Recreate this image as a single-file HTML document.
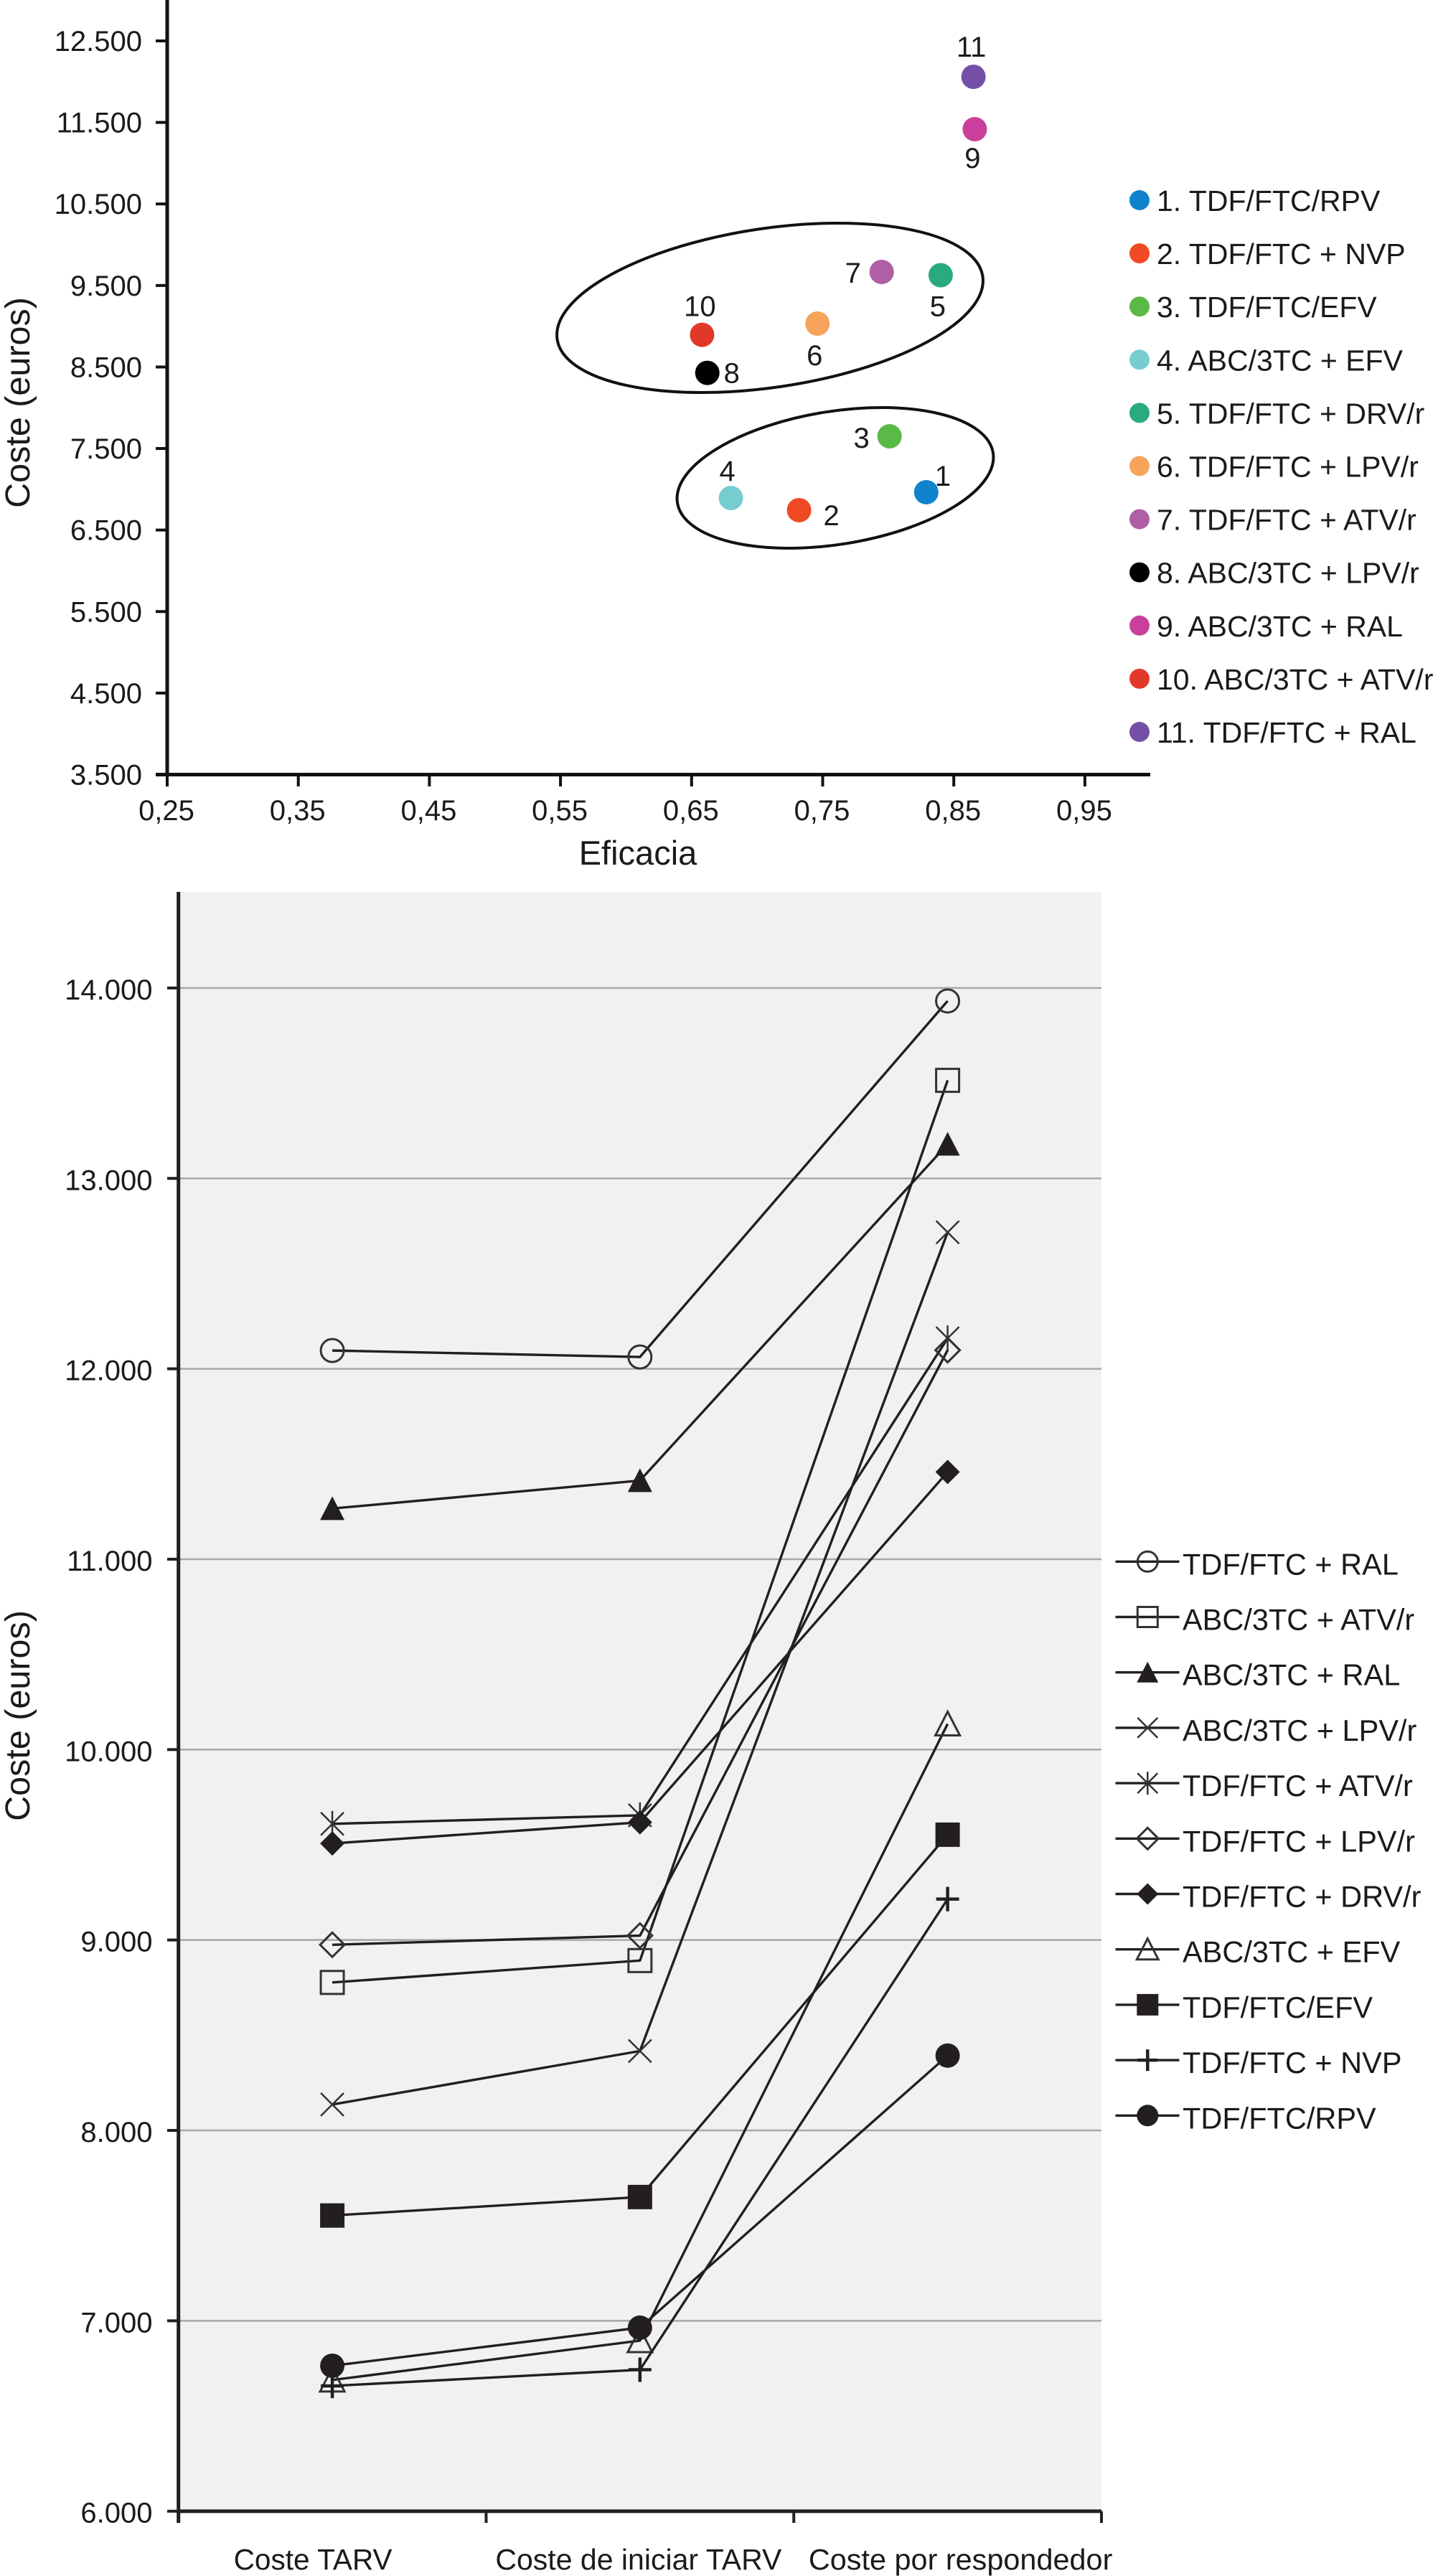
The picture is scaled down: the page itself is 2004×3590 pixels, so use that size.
<!DOCTYPE html>
<html lang="es">
<head>
<meta charset="utf-8">
<title>Coste y eficacia de regímenes TARV</title>
<style>
  html, body { margin: 0; padding: 0; background: #ffffff; }
  #figure { display: block; width: 2004px; height: 3590px; font-family: "Liberation Sans", Arial, sans-serif; fill: #1a1a1a; }
</style>
</head>
<body>
<svg id="figure" xmlns="http://www.w3.org/2000/svg" width="2004" height="3590" viewBox="0 0 2004 3590">
  <g id="scatter"></g>
  <g id="lines"></g>
</svg>
<script>
/* ---------- Scatter chart data ---------- */
const regimens = ["TDF/FTC/RPV", "TDF/FTC + NVP", "TDF/FTC/EFV", "ABC/3TC + EFV", "TDF/FTC + DRV/r", "TDF/FTC + LPV/r", "TDF/FTC + ATV/r", "ABC/3TC + LPV/r", "ABC/3TC + RAL", "ABC/3TC + ATV/r", "TDF/FTC + RAL"];
const efficacyValues = [0.829, 0.732, 0.801, 0.680, 0.840, 0.746, 0.795, 0.662, 0.866, 0.658, 0.865];
const costValues = [6964, 6744, 7650, 6893, 9626, 9032, 9666, 8428, 11417, 8895, 12060];
const costTicks = [3500, 4500, 5500, 6500, 7500, 8500, 9500, 10500, 11500, 12500];
const costTickLabels = ["3.500", "4.500", "5.500", "6.500", "7.500", "8.500", "9.500", "10.500", "11.500", "12.500"];
const efficacyTicks = [0.25, 0.35, 0.45, 0.55, 0.65, 0.75, 0.85, 0.95];
const efficacyTickLabels = ["0,25", "0,35", "0,45", "0,55", "0,65", "0,75", "0,85", "0,95"];

/* ---------- Line chart data ---------- */
const stages = ["Coste TARV", "Coste de iniciar TARV", "Coste por respondedor"];
const seriesNames = ["TDF/FTC + RAL", "ABC/3TC + ATV/r", "ABC/3TC + RAL", "ABC/3TC + LPV/r", "TDF/FTC + ATV/r", "TDF/FTC + LPV/r", "TDF/FTC + DRV/r", "ABC/3TC + EFV", "TDF/FTC/EFV", "TDF/FTC + NVP", "TDF/FTC/RPV"];
const tdfFtcRal = [12096, 12062, 13932];
const abcAtv = [8777, 8892, 13515];
const abcRal = [11266, 11413, 13180];
const abcLpv = [8136, 8417, 12717];
const tdfFtcAtv = [9610, 9655, 12160];
const tdfFtcLpv = [8975, 9023, 12098];
const tdfFtcDrv = [9507, 9618, 11458];
const abcEfv = [6689, 6896, 10135];
const tdfFtcEfv = [7553, 7650, 9553];
const tdfFtcNvp = [6658, 6743, 9215];
const tdfFtcRpv = [6764, 6964, 8393];
const lineCostTicks = [6000, 7000, 8000, 9000, 10000, 11000, 12000, 13000, 14000];
const lineCostTickLabels = ["6.000", "7.000", "8.000", "9.000", "10.000", "11.000", "12.000", "13.000", "14.000"];

const seriesValues = [tdfFtcRal, abcAtv, abcRal, abcLpv, tdfFtcAtv, tdfFtcLpv, tdfFtcDrv, abcEfv, tdfFtcEfv, tdfFtcNvp, tdfFtcRpv];
const seriesMarkers = ["circle-open", "square-open", "triangle", "cross", "star", "diamond-open", "diamond", "triangle-open", "square", "plus", "circle"];
const dotColors = ["#0f83cb", "#f04a25", "#5bb948", "#76cdd0", "#2aaa80", "#f7a35c", "#ae5fa6", "#000000", "#c93f9b", "#e0392a", "#7350a5"];

const NS = "http://www.w3.org/2000/svg";
function make(tag, attrs, parent) {
  const node = document.createElementNS(NS, tag);
  for (const key in attrs) node.setAttribute(key, attrs[key]);
  parent.appendChild(node);
  return node;
}
function slug(text) {
  return text.toLowerCase().replace(/[^a-z0-9]+/g, "-").replace(/^-|-$/g, "");
}

/* ---------- Scatter chart ---------- */
function drawScatter() {
  const root = document.getElementById("scatter");
  const xScale = v => 233 + (v - 0.25) * 1827;
  const yScale = v => 1079.5 - (v - 3500) * 0.11361;
  const ink = "#111111";

  const yAxis = make("line", { x1: 233, x2: 233, y1: 0, y2: 1079.5, stroke: ink, "stroke-width": 5 }, root);
  
  
  const xAxis = make("line", { x1: 217, x2: 1603, y1: 1079.5, y2: 1079.5, stroke: ink, "stroke-width": 5 }, root);
  
  

  costTicks.forEach((v, i) => {
    const y = yScale(v);
    const tick = make("line", { x1: 217, x2: 233, y1: y, y2: y, stroke: ink, "stroke-width": 4 }, root);
    
    
    const label = make("text", { x: 198, y: y + 14, "text-anchor": "end", "font-size": 40 }, root);
    label.textContent = costTickLabels[i];
    
    
  });

  efficacyTicks.forEach((v, i) => {
    const x = xScale(v);
    const tick = make("line", { x1: x, x2: x, y1: 1079.5, y2: 1096, stroke: ink, "stroke-width": 4 }, root);
    
    
    const label = make("text", { x: x - 1, y: 1143, "text-anchor": "middle", "font-size": 40 }, root);
    label.textContent = efficacyTickLabels[i];
    
    
  });

  const xTitle = make("text", { x: 889, y: 1205, "text-anchor": "middle", "font-size": 47 }, root);
  xTitle.textContent = "Eficacia";
  
  

  const yTitle = make("text", { transform: "translate(41 561) rotate(-90)", "text-anchor": "middle", "font-size": 48.5 }, root);
  yTitle.textContent = "Coste (euros)";
  
  

  const upperGroup = make("ellipse", { cx: 1073, cy: 429, rx: 299.7, ry: 110.8, transform: "rotate(-8.4 1073 429)", fill: "none", stroke: ink, "stroke-width": 4 }, root);
  
  
  const lowerGroup = make("ellipse", { cx: 1164, cy: 666, rx: 222.7, ry: 92.7, transform: "rotate(-9 1164 666)", fill: "none", stroke: ink, "stroke-width": 4 }, root);
  
  

  /* label placement relative to each dot */
  const nudgeX = [23, 45, -39, -5, -4, -4, -40, 34, -3, -3, -3];
  const nudgeY = [-23, 7, 2, -38, 43, 44, 1, 0, 40, -40, -42];

  regimens.forEach((name, i) => {
    const cx = xScale(efficacyValues[i]);
    const cy = yScale(costValues[i]);
    const dot = make("circle", { cx: cx, cy: cy, r: 17, fill: dotColors[i] }, root);
    
    
    const num = make("text", { x: cx + nudgeX[i], y: cy + nudgeY[i] + 14, "text-anchor": "middle", "font-size": 40 }, root);
    num.textContent = String(i + 1);
    
    

    const rowY = 279 + i * 74.1;
    const swatch = make("circle", { cx: 1588, cy: rowY, r: 14, fill: dotColors[i] }, root);
    
    
    const entry = make("text", { x: 1612, y: rowY + 15, "font-size": 41 }, root);
    entry.textContent = (i + 1) + ". " + name;
    
    
  });
}

/* ---------- Line chart ---------- */
function drawMarker(kind, cx, cy, parent, s) {
  const ink = "#231f20";
  const open = { fill: "none", stroke: "#333333", "stroke-width": 3 };
  if (kind === "circle-open") return make("circle", Object.assign({ cx: cx, cy: cy, r: s }, open), parent);
  if (kind === "circle") return make("circle", { cx: cx, cy: cy, r: s + 1, fill: ink }, parent);
  if (kind === "square-open") return make("rect", Object.assign({ x: cx - s, y: cy - s, width: 2 * s, height: 2 * s }, open), parent);
  if (kind === "square") return make("rect", { x: cx - s - 1, y: cy - s - 1, width: 2 * s + 2, height: 2 * s + 2, fill: ink }, parent);
  const triangle = `M${cx} ${cy - s - 1}L${cx + s + 1} ${cy + s}L${cx - s - 1} ${cy + s}Z`;
  if (kind === "triangle") return make("path", { d: triangle, fill: ink }, parent);
  if (kind === "triangle-open") return make("path", Object.assign({ d: triangle }, open), parent);
  const diamond = `M${cx} ${cy - s - 1}L${cx + s + 1} ${cy}L${cx} ${cy + s + 1}L${cx - s - 1} ${cy}Z`;
  if (kind === "diamond") return make("path", { d: diamond, fill: ink }, parent);
  if (kind === "diamond-open") return make("path", Object.assign({ d: diamond }, open), parent);
  const cross = `M${cx - s} ${cy - s}L${cx + s} ${cy + s}M${cx - s} ${cy + s}L${cx + s} ${cy - s}`;
  if (kind === "cross") return make("path", { d: cross, fill: "none", stroke: "#333333", "stroke-width": 2.5 }, parent);
  if (kind === "star") return make("path", { d: cross + `M${cx} ${cy - s - 2}L${cx} ${cy + s + 2}`, fill: "none", stroke: "#333333", "stroke-width": 2.5 }, parent);
  return make("path", { d: `M${cx - s} ${cy}L${cx + s} ${cy}M${cx} ${cy - s - 1}L${cx} ${cy + s + 1}`, fill: "none", stroke: ink, "stroke-width": 4.5 }, parent);
}

function drawLines() {
  const root = document.getElementById("lines");
  const ink = "#231f20";
  const left = 248.7, right = 1535, top = 1243, bottom = 3499.7;
  const bandWidth = (right - left) / stages.length;
  const xScale = i => left + bandWidth * (i + 0.5);
  const yScale = v => bottom - (v - 6000) * 0.26535;

  const panel = make("rect", { x: left, y: top, width: right - left, height: bottom - top, fill: "#f1f1f1" }, root);
  
  

  lineCostTicks.forEach((v, i) => {
    const y = yScale(v);
    if (i > 0) {
      const grid = make("line", { x1: left, x2: right, y1: y, y2: y, stroke: "#a5a9ab", "stroke-width": 2.5 }, root);
      
      
    }
    const tick = make("line", { x1: 233, x2: left, y1: y, y2: y, stroke: ink, "stroke-width": 4 }, root);
    
    
    const label = make("text", { x: 212.5, y: y + 16, "text-anchor": "end", "font-size": 40 }, root);
    label.textContent = lineCostTickLabels[i];
    
    
  });

  const yAxis = make("line", { x1: left, x2: left, y1: top, y2: 3516, stroke: ink, "stroke-width": 5 }, root);
  
  
  const xAxis = make("line", { x1: left, x2: right, y1: bottom, y2: bottom, stroke: ink, "stroke-width": 5 }, root);
  
  

  for (let i = 1; i <= stages.length; i++) {
    const tx = left + bandWidth * i;
    const tick = make("line", { x1: tx, x2: tx, y1: bottom, y2: 3516, stroke: ink, "stroke-width": 4 }, root);
    
    
  }

  const labelShift = [-27, -2, 18];
  const labelWidth = [221, 399, 423.5];
  stages.forEach((name, i) => {
    const label = make("text", { x: xScale(i) + labelShift[i], y: 3581, "text-anchor": "middle", "font-size": 41, textLength: labelWidth[i], lengthAdjust: "spacingAndGlyphs" }, root);
    label.textContent = name;
    
    
  });

  const yTitle = make("text", { transform: "translate(41 2391) rotate(-90)", "text-anchor": "middle", "font-size": 48.5 }, root);
  yTitle.textContent = "Coste (euros)";
  
  

  seriesNames.forEach((name, s) => {
    const group = make("g", {}, root);
    
    
    const values = seriesValues[s];
    const pts = values.map((v, i) => xScale(i) + "," + yScale(v)).join(" ");
    const path = make("polyline", { points: pts, fill: "none", stroke: ink, "stroke-width": 3.4, "stroke-linejoin": "round" }, group);
    
    
    values.forEach((v, i) => {
      const mark = drawMarker(seriesMarkers[s], xScale(i), yScale(v), group, 16);
      
      
    });

    const rowY = 2176.3 + s * 77.2;
    const key = make("g", {}, root);
    
    
    const keyLine = make("line", { x1: 1554.5, x2: 1643.5, y1: rowY, y2: rowY, stroke: ink, "stroke-width": 3.4 }, key);
    
    
    const keyMark = drawMarker(seriesMarkers[s], 1599.3, rowY, key, 14);
    
    
    const keyText = make("text", { x: 1648, y: rowY + 18, "font-size": 41.5 }, key);
    keyText.textContent = name;
    
    
  });
}

drawScatter();
drawLines();
</script>
</body>
</html>
